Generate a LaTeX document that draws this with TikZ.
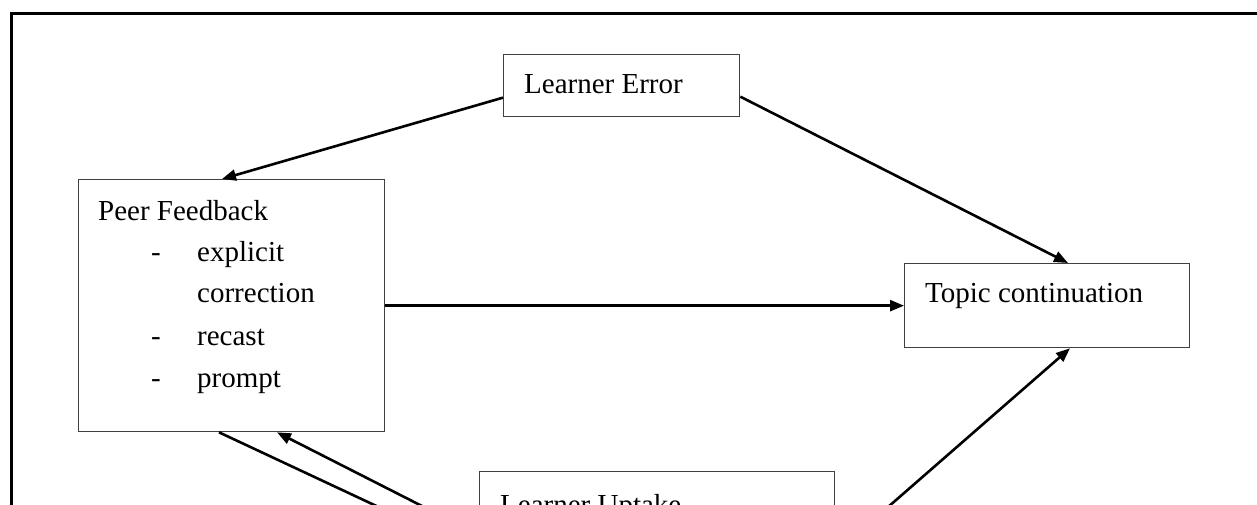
\documentclass[tikz,border=0pt]{standalone}
\usepackage{fontspec}
\setmainfont{Liberation Serif}
\usetikzlibrary{arrows.meta}
\tikzset{
  box/.style={draw=black!75, line width=1.3pt, rectangle, inner sep=0pt, anchor=north west},
  txt/.style={inner sep=0pt, anchor=base west, font=\fontsize{29}{35}\selectfont},
  conn/.style={draw=black, line width=2.6pt, -{Triangle[length=14pt,width=11pt]}},
  frame/.style={draw=black, line width=3pt}
}
\begin{document}
\begin{tikzpicture}[x=1pt,y=-1pt]
\useasboundingbox (0,0) rectangle (1257,504);
\clip (0,0) rectangle (1257,504);
\fill[white] (0,0) rectangle (1257,504);
% outer frame (cut at right and bottom)
\coordinate (fb) at (11,520);
\coordinate (ftl) at (11,13);
\coordinate (ftr) at (1270,13);
\draw[frame] (fb) -- (ftl) -- (ftr);
% boxes
\node[box, minimum width=236pt, minimum height=62pt] (le) at (503,54) {};
\node[box, minimum width=306pt, minimum height=252pt] (pf) at (78,179) {};
\node[box, minimum width=285pt, minimum height=84pt] (tc) at (904,263) {};
\node[box, minimum width=355pt, minimum height=150pt] (lu) at (479,471) {};
% texts
\node[txt] (tle) at (524,93) {Learner Error};
\node[txt] (tpf) at (98,220) {Peer Feedback};
\node[txt] (d1) at (151,261) {-};
\node[txt] (t1) at (197,261) {explicit};
\node[txt] (t2) at (197,302) {correction};
\node[txt] (d2) at (151,345) {-};
\node[txt] (t3) at (197,345) {recast};
\node[txt] (d3) at (151,387) {-};
\node[txt] (t4) at (197,387) {prompt};
\node[txt] (ttc) at (925,302) {Topic continuation};
\node[txt] (tlu) at (500,514) {Learner Uptake};
% connectors
\draw[conn] ([yshift=-12pt]le.west) -- ([xshift=144pt]pf.north west);
\draw[conn] ([yshift=-11pt]le.east) -- ([xshift=164pt]tc.north west);
\draw[conn] (pf.east) -- (tc.west);
\draw[conn] ([xshift=141pt]pf.south west) -- ([yshift=-83pt]lu.north west);
\draw[conn] ([yshift=-64pt]lu.north west) -- ([xshift=199pt]pf.south west);
\draw[conn] ([yshift=-82pt]lu.north east) -- ([xshift=166pt]tc.south west);
\end{tikzpicture}
\end{document}
